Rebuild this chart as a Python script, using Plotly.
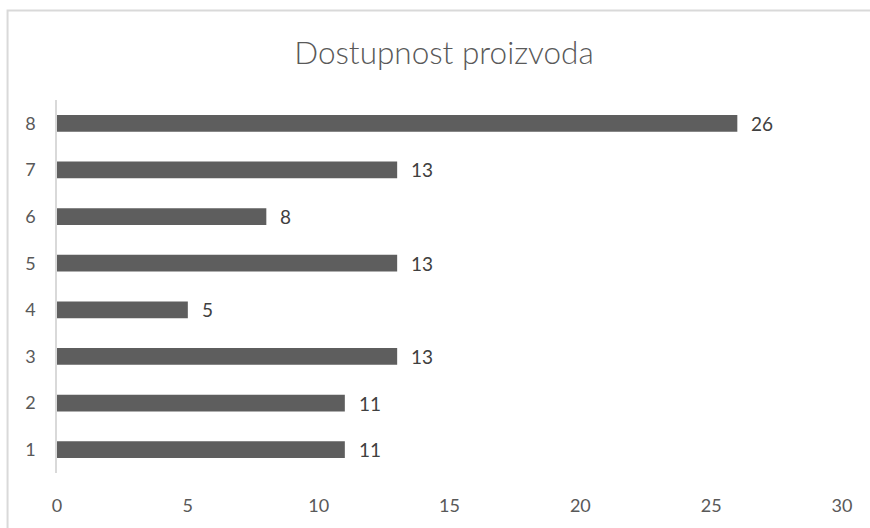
import plotly.graph_objects as go

# Product availability ratings (1-8) and the number of answers for each
categories = [1, 2, 3, 4, 5, 6, 7, 8]
counts = [11, 11, 13, 5, 13, 8, 13, 26]
x_ticks = [0, 5, 10, 15, 20, 25, 30]
title_text = "Dostupnost proizvoda"

BAR_COLOR = "#5e5e5e"
TEXT_COLOR = "#595959"
LABEL_COLOR = "#404040"
FRAME_COLOR = "#d9d9d9"
FONT = "Lato"

fig = go.Figure(
    go.Bar(
        x=counts,
        y=categories,
        orientation="h",
        width=0.36,
        marker=dict(color=BAR_COLOR, line=dict(width=0)),
        hoverinfo="skip",
    )
)

# value labels just past the end of each bar
for cat, val in zip(categories, counts):
    fig.add_annotation(
        x=val, y=cat, xref="x", yref="y",
        text=str(val), showarrow=False,
        xanchor="left", yanchor="middle", xshift=12,
        font=dict(family=FONT, size=19, color=LABEL_COLOR),
    )

# thin outer frame of the chart area
fig.add_shape(
    type="rect", xref="paper", yref="paper",
    x0=-0.063, x1=1.2, y0=-0.3, y1=1.24,
    line=dict(color=FRAME_COLOR, width=2),
    fillcolor="rgba(0,0,0,0)", layer="below",
)

fig.update_layout(
    width=870, height=528,
    margin=dict(l=57, r=27.5, t=100, b=50.4, pad=0),
    paper_bgcolor="white", plot_bgcolor="white",
    showlegend=False,
    title=dict(
        text=title_text,
        x=0.5103, xref="container", xanchor="center",
        y=1 - 53 / 528, yref="container", yanchor="middle",
        font=dict(family=FONT, size=31.5, color=TEXT_COLOR, weight=300),
    ),
    xaxis=dict(
        range=[0, 30], tickvals=x_ticks, ticktext=[str(t) for t in x_ticks],
        showgrid=False, zeroline=False, showline=False, ticks="",
        ticklabelstandoff=20,
        tickfont=dict(family=FONT, size=18, color=TEXT_COLOR),
    ),
    yaxis=dict(
        range=[0.5, 8.5], tickvals=categories,
        ticktext=[str(c) for c in categories],
        showgrid=False, zeroline=False,
        showline=True, linecolor=FRAME_COLOR, linewidth=1.5,
        ticks="", ticklabelstandoff=16,
        tickfont=dict(family=FONT, size=18, color=TEXT_COLOR),
    ),
)

fig.write_html("out.html")
